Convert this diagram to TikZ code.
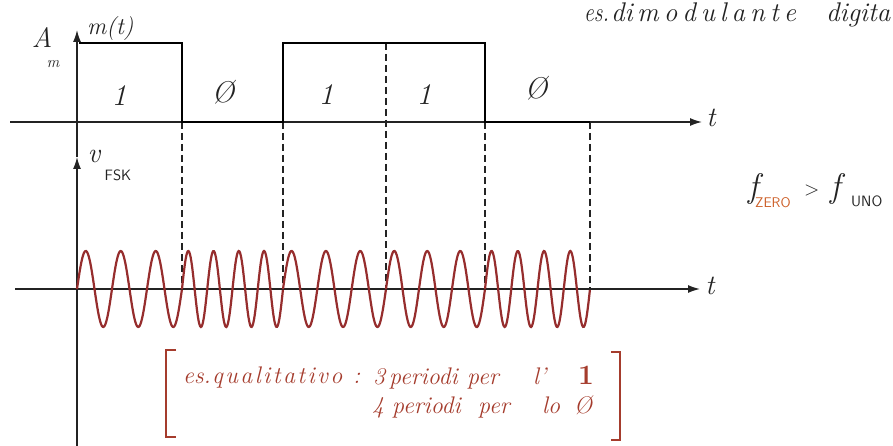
\documentclass[tikz,border=0pt]{standalone}
\usetikzlibrary{arrows.meta}
\definecolor{wavered}{RGB}{150,45,45}
\definecolor{inkred}{RGB}{165,60,45}
\definecolor{suborange}{RGB}{205,95,40}
\definecolor{ink}{RGB}{35,35,35}
\begin{document}
\begin{tikzpicture}[x=1pt,y=-1pt,
  axis/.style={line width=1.4pt, draw=ink},
  sig/.style={line width=2.6pt, draw=black},
  guide/.style={line width=1.1pt, dash pattern=on 7pt off 4pt, draw=ink},
  wave/.style={line width=2.2pt, draw=wavered},
  hand/.style={font=\fontsize{24}{28}\selectfont\itshape, text=ink, inner sep=0pt},
  big/.style={hand, font=\fontsize{30}{34}\selectfont\itshape},
  word/.style={hand, text=inkred, anchor=base west},
  tword/.style={hand, font=\fontsize{27}{30}\selectfont\itshape, anchor=base west},
  tip/.style={-{Latex[length=12pt,width=8pt]}}
]
\useasboundingbox (0,0) rectangle (893,446);
\clip (0,0) rectangle (893,446);
\fill[white] (0,0) rectangle (893,446);
% axes
\coordinate (yb) at (77,446);
\coordinate (ytop) at (77,30);
\coordinate (yfsk) at (77,157);
\coordinate (t1s) at (10,122);
\coordinate (t1e) at (702,122);
\coordinate (t2s) at (15,289);
\coordinate (t2e) at (700,289);
\draw[axis,tip] (t1s) -- (t1e);
\draw[axis,tip] (t2s) -- (t2e);
\draw[axis,tip] (yb) -- (yfsk);
\draw[axis,tip] (yfsk) -- (ytop);
% guides
\foreach \g in {182,283,485,590} \draw[guide] (\g,122) -- (\g,289);
\draw[guide] (386,43) -- (386,289);
% modulating signal
\draw[sig] (79,43) -- (182,43) -- (182,122) -- (283,122) -- (283,43) -- (485,43) -- (485,122) -- (590,122);
% FSK wave
\foreach \a/\b/\n in {77/182/3, 182/283/4, 283/386/3, 386/485/3, 485/590/4}
  \draw[wave] plot[domain=0:1, samples=140, smooth, variable=\u] ({\a+(\b-\a)*\u},{289-38*sin(360*\n*\u)});
% labels of the first plot
\node[hand, font=\fontsize{28}{30}\selectfont\itshape] (A) at (42,38) {A};
\node[hand, font=\fontsize{16}{18}\selectfont\itshape] (Am) at (53,64) {m};
\node[hand, anchor=base west] (mt) at (87,35) {m(t)};
\node[big] (b1) at (119,96) {1};
\node[big] (b2) at (223,92) {\O};
\node[big] (b3) at (326,95) {1};
\node[big] (b4) at (424,95) {1};
\node[big] (b5) at (536,88) {\O};
\node[hand, font=\fontsize{28}{30}\selectfont\itshape] (tt1) at (711,118) {t};
\node[hand, font=\fontsize{28}{30}\selectfont\itshape] (tt2) at (710,286) {t};
\node[hand, font=\fontsize{28}{30}\selectfont\itshape] (vv) at (94,156) {v};
\node[hand, font=\fontsize{15}{17}\selectfont\sffamily] (fsk) at (118,175) {FSK};
% title (as far as the reference shows it)
\node[tword] (es) at (584,22) {\scalebox{0.8}[1]{es.}};
\node[tword] (di) at (611,22) {di};
\node[tword] (mod) at (637,22) {m\kern5pt o\kern5pt d\kern5pt u\kern5pt l\kern5pt a\kern5pt n\kern5pt t\kern5pt e};
\node[tword] (dig) at (826,22) {digita};
% frequency relation
\node[hand, font=\fontsize{34}{36}\selectfont\itshape, anchor=base west] (f0) at (748,198) {f};
\node[hand, font=\fontsize{14}{16}\selectfont\sffamily, text=suborange, anchor=base west] (zero) at (755,208) {ZERO};
\node[hand, font=\fontsize{20}{22}\selectfont, anchor=base west] (gt) at (804,196) {>};
\node[hand, font=\fontsize{34}{36}\selectfont\itshape, anchor=base west] (f1) at (830,198) {f};
\node[hand, font=\fontsize{15}{17}\selectfont\sffamily, anchor=base west] (uno) at (851,207) {UNO};
% bracket note
\draw[inkred, line width=1.5pt] (176,350) -- (166,350) -- (166,437) -- (176,437);
\draw[inkred, line width=1.5pt] (611,352) -- (620,352) -- (620,440) -- (611,440);
\node[word] (q1) at (183,383) {es.};
\node[word] (q2) at (212,383) {q\kern2.4pt u\kern2.4pt a\kern2.4pt l\kern2.4pt i\kern2.4pt t\kern2.4pt a\kern2.4pt t\kern2.4pt i\kern2.4pt v\kern2.4pt o};
\node[word] (q3) at (353,383) {:};
\node[word] (q4) at (373,384) {3};
\node[word] (q5) at (389,384) {periodi};
\node[word] (q6) at (467,384) {per};
\node[word] (q7) at (533,384) {l'};
\node[word, font=\fontsize{28}{30}\selectfont\bfseries] (q8) at (578,384) {1};
\node[word] (r1) at (372,413) {4};
\node[word] (r2) at (392,413) {periodi};
\node[word] (r3) at (478,413) {per};
\node[word] (r4) at (542,413) {lo};
\node[word] (r5) at (574,413) {\O};
\end{tikzpicture}
\end{document}
